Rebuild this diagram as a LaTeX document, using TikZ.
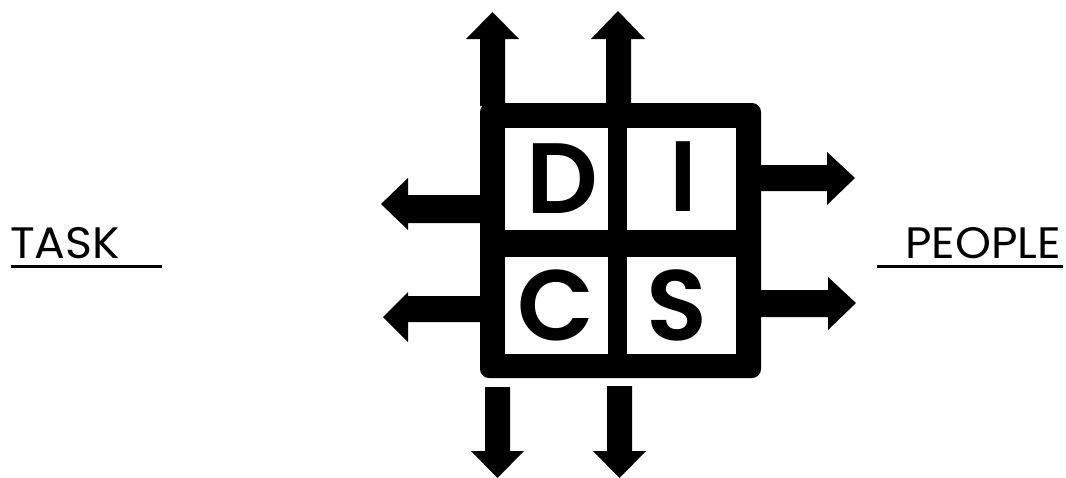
\documentclass[tikz,border=0pt]{standalone}
\usepackage{fontspec}
\newfontfamily\popfont{Poppins}[BoldFont=* SemiBold]
\tikzset{
  blk/.style={fill=black, draw=none},
  cell/.style={fill=white, draw=none},
  letter/.style={font=\popfont\bfseries\fontsize{100}{100}\selectfont, anchor=base, inner sep=0pt},
  sidelabel/.style={font=\popfont\fontsize{44}{44}\selectfont, inner sep=0pt, xscale=1.04},
  uline/.style={line width=3pt}
}
\begin{document}
\begin{tikzpicture}[x=1pt,y=-1pt]
\useasboundingbox (0,0) rectangle (1066,477);
\clip (0,0) rectangle (1066,477);
% frame
\fill[blk, rounded corners=9pt] (480,103) rectangle (761,378);
\fill[cell] (505,128) rectangle (608,230);
\fill[cell] (627,128) rectangle (736,230);
\fill[cell] (505,257) rectangle (608,354);
\fill[cell] (627,257) rectangle (736,354);
% arrows up
\fill[blk] (480,106) -- (480,39) -- (466,39) -- (492.5,12) -- (519,39) -- (505,39) -- (505,106) -- cycle;
\fill[blk] (606,106) -- (606,39) -- (591,39) -- (618,11) -- (645,39) -- (631,39) -- (631,106) -- cycle;
% arrows left
\fill[blk] (482,195) -- (408,195) -- (408,178) -- (381,204) -- (408,230) -- (408,223) -- (482,223) -- cycle;
\fill[blk] (482,296) -- (408,296) -- (408,292) -- (383,317) -- (408,342) -- (408,322) -- (482,322) -- cycle;
% arrows right
\fill[blk] (759,165) -- (827,165) -- (827,152) -- (855,178) -- (827,205) -- (827,191) -- (759,191) -- cycle;
\fill[blk] (759,290) -- (828,290) -- (828,277) -- (856,303) -- (828,330) -- (828,317) -- (759,317) -- cycle;
% arrows down
\fill[blk] (485,387) -- (485,451) -- (471,451) -- (497.5,478) -- (524,451) -- (510,451) -- (510,387) -- cycle;
\fill[blk] (607,386) -- (607,451) -- (593,451) -- (619.5,478) -- (646,451) -- (632,451) -- (632,386) -- cycle;
% letters
\node[letter] (D) at (562.5,213) {D};
\node[letter] (I) at (683,211) {I};
\node[letter] (C) at (556,340) {C};
\node[letter] (S) at (676.5,340) {S};
% side labels
\node[sidelabel, anchor=base west] (task) at (10,258) {TASK};
\draw[uline] (11,266) -- (162,266);
\node[sidelabel, anchor=base east] (people) at (1061,258) {PEOPLE};
\draw[uline] (877,266) -- (1063,266);
\end{tikzpicture}
\end{document}
